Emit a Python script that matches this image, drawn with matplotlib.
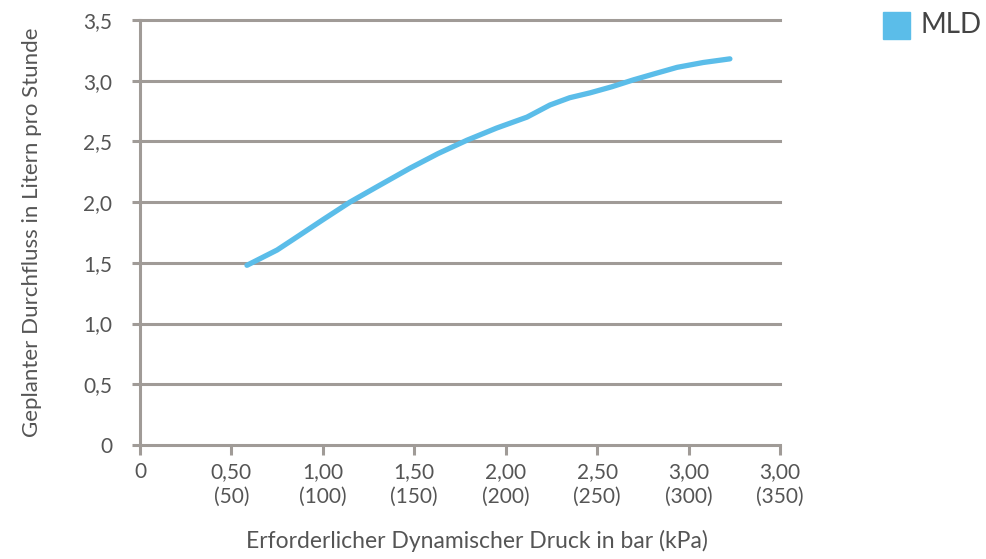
import numpy as np
import matplotlib.pyplot as plt
from matplotlib.patches import Rectangle

# Daten
druck = [0.585, 0.75, 0.875, 1.0, 1.148, 1.3, 1.477, 1.63, 1.788, 1.95, 2.116,
         2.242, 2.35, 2.461, 2.58, 2.696, 2.82, 2.937, 3.08, 3.226]
durchfluss = [1.48, 1.606, 1.73, 1.855, 2.00, 2.13, 2.28, 2.40, 2.51, 2.61, 2.70,
              2.80, 2.86, 2.90, 2.95, 3.006, 3.06, 3.11, 3.15, 3.18]

x_ticks = [0, 0.5, 1.0, 1.5, 2.0, 2.5, 3.0, 3.5]
x_labels = ["0", "0,50\n(50)", "1,00\n(100)", "1,50\n(150)", "2,00\n(200)",
            "2,50\n(250)", "3,00\n(300)", "3,00\n(350)"]
y_ticks = [0, 0.5, 1.0, 1.5, 2.0, 2.5, 3.0, 3.5]
y_labels = ["0", "0,5", "1,0", "1,5", "2,0", "2,5", "3,0", "3,5"]

grau = '#a09b97'
text_grau = '#555555'
blau = '#5bbde9'

plt.rcParams['font.family'] = ['Lato', 'DejaVu Sans']

fig = plt.figure(figsize=(9.87, 5.59), dpi=100)
ax = fig.add_axes([140/987, 1-445/559, 640/987, 425/559])

# Gitterlinien
for y in y_ticks:
  ax.axhline(y, color=grau, lw=2.2, zorder=1, clip_on=False)

ax.plot(druck, durchfluss, color=blau, lw=3.8, solid_capstyle='round',
        solid_joinstyle='round', zorder=3)

ax.set_xlim(0, 3.5)
ax.set_ylim(0, 3.5)

for s in ['top', 'right', 'bottom']:
  ax.spines[s].set_visible(False)
ax.spines['left'].set_color(grau)
ax.spines['left'].set_linewidth(2.2)

ax.set_xticks(x_ticks)
ax.set_xticklabels(x_labels, fontsize=15, color=text_grau, linespacing=1.3)
ax.set_yticks(y_ticks)
ax.set_yticklabels(y_labels, fontsize=15, color=text_grau)
ax.tick_params(axis='x', length=7, width=2.2, color=grau, pad=5)
ax.tick_params(axis='y', length=6, width=2.2, color=grau, pad=14)

ax.set_xlabel("Erforderlicher Dynamischer Druck in bar (kPa)", fontsize=16.5,
              color=text_grau)
ax.xaxis.set_label_coords(0.527, -0.2)
ax.set_ylabel("Geplanter Durchfluss in Litern pro Stunde", fontsize=16,
              color=text_grau, labelpad=30)

# Legende
fig.patches.append(Rectangle((883/987, 1-39/559), 27/987, 27/559,
                             transform=fig.transFigure, color=blau))
fig.text(921/987, 1-25/559, "MLD", fontsize=20, color='#444444', va='center', ha='left')

fig.savefig("out.png", dpi=100)
